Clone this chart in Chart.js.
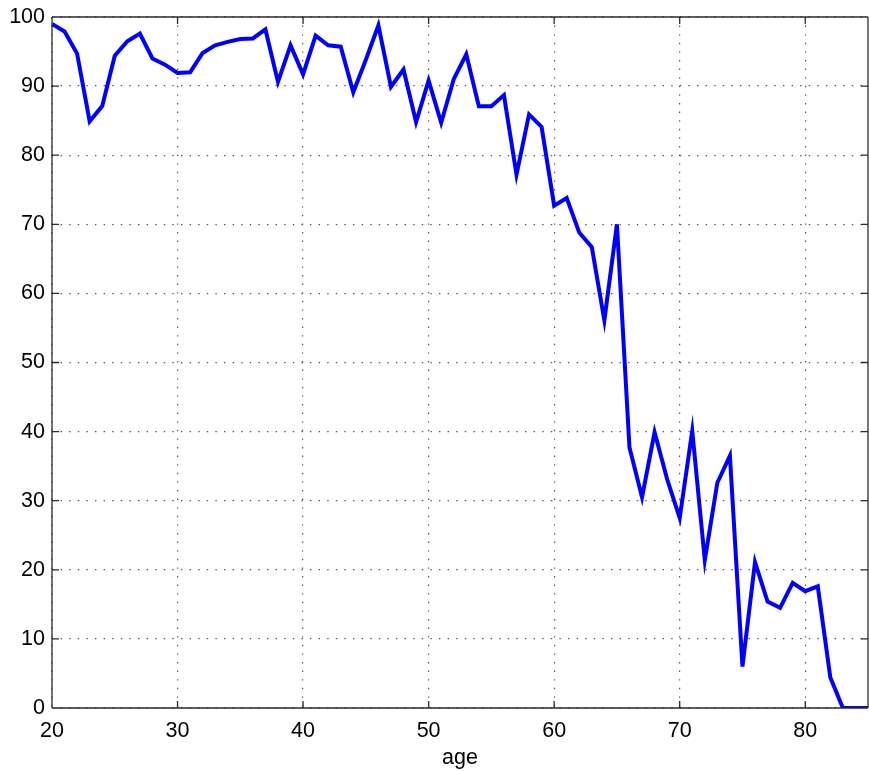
<!DOCTYPE html>
<html>
<head>
<meta charset="utf-8">
<script src="https://cdn.jsdelivr.net/npm/chart.js@4/dist/chart.umd.min.js"></script>
<style>
  html, body { margin: 0; padding: 0; background: #fff; }
  #wrap { width: 869px; height: 771px; }
</style>
</head>
<body>
<div id="wrap"><canvas id="c" width="869" height="771"></canvas></div>
<script>
const ages = [20,21,22,23,24,25,26,27,28,29,30,31,32,33,34,35,36,37,38,39,40,41,42,43,44,45,46,47,48,49,50,51,52,53,54,55,56,57,58,59,60,61,62,63,64,65,66,67,68,69,70,71,72,73,74,75,76,77,78,79,80,81,82,83,84,85];
const values = [99.0,97.9,94.7,84.9,87.1,94.4,96.5,97.6,94.0,93.1,91.9,92.0,94.8,95.9,96.4,96.8,96.9,98.2,90.6,95.9,
                91.7,97.3,95.9,95.7,89.1,93.8,98.8,89.9,92.4,84.8,90.8,84.7,91.0,94.6,87.1,87.1,88.7,77.2,85.9,84.1,
                72.7,73.8,68.8,66.7,56.1,70.0,37.7,30.5,39.9,33.1,27.5,40.1,21.4,32.6,36.5,6.0,21.1,15.4,14.5,18.1,
                16.9,17.6,4.4,0,0,0];
const xTicks = [20,30,40,50,60,70,80];
const yTicks = [0,10,20,30,40,50,60,70,80,90,100];

const FONT = "'Liberation Sans', Arial, Helvetica, sans-serif";
const AXIS_COLOR = '#2b2b2b';
const TICK_LEN = 7;

const boxPlugin = {
  id: 'boxTicks',
  afterDraw(chart) {
    const {ctx, chartArea: a, scales: {x, y}} = chart;
    ctx.save();
    ctx.strokeStyle = AXIS_COLOR;
    ctx.lineWidth = 1.3;
    ctx.beginPath();
    ctx.moveTo(a.left, a.top); ctx.lineTo(a.right, a.top);
    ctx.moveTo(a.right, a.top); ctx.lineTo(a.right, a.bottom);
    ctx.moveTo(a.left, a.top); ctx.lineTo(a.left, a.bottom);
    ctx.moveTo(a.left, a.bottom); ctx.lineTo(a.right, a.bottom);
    xTicks.forEach(v => {
      const px = x.getPixelForValue(v);
      ctx.moveTo(px, a.bottom); ctx.lineTo(px, a.bottom - TICK_LEN);
      ctx.moveTo(px, a.top); ctx.lineTo(px, a.top + TICK_LEN);
    });
    yTicks.forEach(v => {
      const py = y.getPixelForValue(v);
      ctx.moveTo(a.left, py); ctx.lineTo(a.left + TICK_LEN, py);
      ctx.moveTo(a.right, py); ctx.lineTo(a.right - TICK_LEN, py);
    });
    ctx.stroke();
    ctx.restore();
  }
};

new Chart(document.getElementById('c'), {
  type: 'line',
  data: {
    datasets: [{
      data: ages.map((a, i) => ({x: a, y: values[i]})),
      borderColor: '#0000ff',
      borderWidth: 4,
      pointRadius: 0,
      tension: 0,
      fill: false
    }]
  },
  options: {
    responsive: false,
    animation: false,
    layout: { padding: { top: 17, right: 1, left: 0, bottom: 0 } },
    plugins: { legend: { display: false }, tooltip: { enabled: false } },
    scales: {
      x: {
        type: 'linear',
        min: 20, max: 85,
        afterBuildTicks: s => { s.ticks = xTicks.map(v => ({value: v})); },
        afterFit: s => { s.height = 63; s.paddingLeft = 0; s.paddingRight = 0; },
        grid: { color: '#555', lineWidth: 1.2, drawTicks: false },
        border: { display: false, dash: [1.4, 7.2] },
        ticks: { autoSkip: false, maxRotation: 0, padding: 10, color: '#000', font: { family: FONT, size: 21.5 } },
        title: { display: true, text: 'age', color: '#000', font: { family: FONT, size: 21.5 }, padding: { top: 0, bottom: 0 } }
      },
      y: {
        type: 'linear',
        min: 0, max: 100,
        afterBuildTicks: s => { s.ticks = yTicks.map(v => ({value: v})); },
        afterFit: s => { s.width = 52; s.paddingTop = 0; s.paddingBottom = 0; },
        grid: { color: '#555', lineWidth: 1.2, drawTicks: false },
        border: { display: false, dash: [1.4, 7.2] },
        ticks: { padding: 7, color: '#000', font: { family: FONT, size: 21.5 } }
      }
    }
  },
  plugins: [boxPlugin]
});
</script>
</body>
</html>
